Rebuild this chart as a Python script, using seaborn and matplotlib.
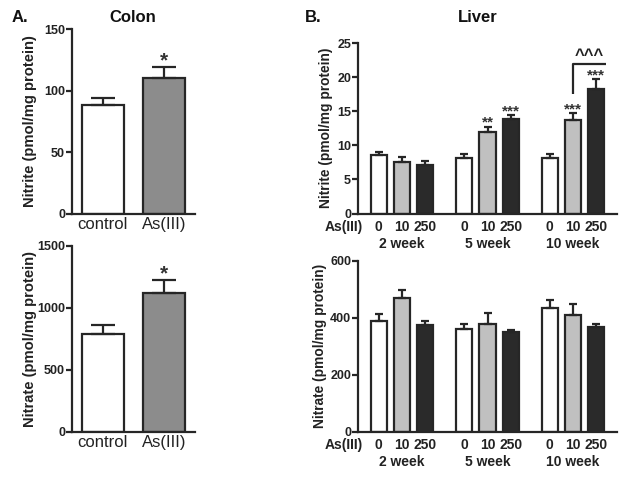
import numpy as np
import pandas as pd
import matplotlib
matplotlib.use("Agg")
import matplotlib.pyplot as plt
import seaborn as sns

# ---------------- data ----------------
colon_groups = ["control", "As(III)"]
colon_nitrite = [88.5, 110.5]
colon_nitrite_err = [5.5, 8.5]
colon_nitrate = [793, 1123]
colon_nitrate_err = [70, 103]
colon_sig = ["", "*"]

weeks = ["2 week", "5 week", "10 week"]
doses = ["0", "10", "250"]
liver_nitrite_2wk = [8.6, 7.5, 7.05]
liver_nitrite_5wk = [8.1, 11.95, 13.9]
liver_nitrite_10wk = [8.15, 13.65, 18.25]
liver_nitrite_err_2wk = [0.4, 0.85, 0.6]
liver_nitrite_err_5wk = [0.6, 0.8, 0.55]
liver_nitrite_err_10wk = [0.55, 1.1, 1.4]
liver_nitrite_sig_2wk = ["", "", ""]
liver_nitrite_sig_5wk = ["", "**", "***"]
liver_nitrite_sig_10wk = ["", "***", "***"]

liver_nitrate_2wk = [389, 468, 375]
liver_nitrate_5wk = [360, 379, 349]
liver_nitrate_10wk = [435, 410, 368]
liver_nitrate_err_2wk = [23, 29, 13]
liver_nitrate_err_5wk = [19, 37, 8]
liver_nitrate_err_10wk = [27, 38, 9]

# ---------------- style ----------------
sns.set_theme(style="ticks")
plt.rcParams["font.family"] = ["Liberation Sans", "DejaVu Sans"]
EDGE = "#262626"
LW = 1.6

fig = plt.figure(figsize=(6.29, 4.78), dpi=100)
W, H = 629, 478


def add_ax(left, top, right, bottom):
    return fig.add_axes([left / W, 1 - bottom / H, (right - left) / W, (bottom - top) / H])


def style_ax(ax, yticks, ylabel, label_x, label_size):
    sns.despine(ax=ax)
    for s in ["left", "bottom"]:
        ax.spines[s].set_linewidth(LW)
        ax.spines[s].set_color(EDGE)
    ax.set_yticks(yticks)
    ax.set_ylim(yticks[0], yticks[-1])
    ax.tick_params(axis="y", length=4, width=LW, color=EDGE, labelsize=9, pad=1, labelcolor="#222222")
    for lab in ax.get_yticklabels():
        lab.set_fontweight("bold")
    ax.set_ylabel(ylabel, fontsize=label_size, fontweight="bold", color="#222222")
    ax.yaxis.set_label_coords(label_x, 0.5)
    ax.set_xlabel("")


def star(ax, x, y, s, size, gap_px):
    # place the visual centre of the asterisks gap_px above the error cap
    off = gap_px / 1.389 - 0.22 * size
    ax.annotate(s, xy=(x, y), xytext=(0, off), textcoords="offset points", ha="center",
                va="center", fontsize=size, fontweight="bold", color="#333333",
                annotation_clip=False)


# ---------------- Colon ----------------
def colon_panel(ax, values, errs, yticks, ylabel):
    df = pd.DataFrame({"group": colon_groups, "value": values})
    sns.barplot(data=df, x="group", y="value", hue="group", palette=["white", "#8c8c8c"],
                width=0.68, edgecolor=EDGE, linewidth=LW, errorbar=None, legend=False, ax=ax)
    ax.errorbar(x=[0, 1], y=values, yerr=[[0, 0], errs], fmt="none", ecolor=EDGE,
                elinewidth=LW, capsize=8.3, capthick=LW, zorder=3)
    for i, (v, e, s) in enumerate(zip(values, errs, colon_sig)):
        if s:
            star(ax, i, v + e, s, 15, 11)
    ax.set_xlim(-0.5, 1.5)
    ax.tick_params(axis="x", length=0, labelsize=12, pad=2, labelcolor="#222222")
    style_ax(ax, yticks, ylabel, -0.285, 10.6)


ax1 = add_ax(72, 29, 195, 214)
colon_panel(ax1, colon_nitrite, colon_nitrite_err, [0, 50, 100, 150], "Nitrite (pmol/mg protein)")
ax2 = add_ax(72, 246, 195, 432)
colon_panel(ax2, colon_nitrate, colon_nitrate_err, [0, 500, 1000, 1500], "Nitrate (pmol/mg protein)")

# ---------------- Liver ----------------
GROUP_STEP = 3.66


def liver_panel(ax, vals_by_week, errs_by_week, sigs_by_week, yticks, ylabel, tick_off, week_off,
                label_x):
    xs, ys, es, ds, ss = [], [], [], [], []
    for g, (vals, errs, sigs) in enumerate(zip(vals_by_week, errs_by_week, sigs_by_week)):
        for i, (v, e, s) in enumerate(zip(vals, errs, sigs)):
            xs.append(g * GROUP_STEP + i)
            ys.append(v)
            es.append(e)
            ds.append(doses[i])
            ss.append(s)
    df = pd.DataFrame({"x": xs, "value": ys, "dose": ds})
    sns.barplot(data=df, x="x", y="value", hue="dose", hue_order=doses,
                palette=["white", "#c0c0c0", "#2a2a2a"], native_scale=True, dodge=False,
                width=0.69, edgecolor=EDGE, linewidth=LW, errorbar=None, legend=False, ax=ax)
    ax.errorbar(x=xs, y=ys, yerr=[np.zeros(len(es)), es], fmt="none", ecolor=EDGE,
                elinewidth=LW, capsize=2.9, capthick=LW, zorder=3)
    for x, v, e, s in zip(xs, ys, es, ss):
        if s:
            star(ax, x, v + e, s, 11, 7)
    ax.set_xlim(-0.89, 2 * GROUP_STEP + 2 + 0.89)
    ax.set_xticks([])
    trans = ax.get_xaxis_transform()
    for x, d in zip(xs, ds):
        ax.annotate(d, xy=(x, 0), xycoords=trans, xytext=(0, -tick_off), textcoords="offset points",
                    ha="center", va="center", fontsize=10, fontweight="bold", color="#222222",
                    annotation_clip=False)
    ax.annotate("As(III)", xy=(-1.5, 0), xycoords=trans, xytext=(0, -tick_off),
                textcoords="offset points", ha="center", va="center", fontsize=10,
                fontweight="bold", color="#222222", annotation_clip=False)
    for g, wk in enumerate(weeks):
        ax.annotate(wk, xy=(g * GROUP_STEP + 1, 0), xycoords=trans, xytext=(0, -week_off),
                    textcoords="offset points", ha="center", va="center", fontsize=10,
                    fontweight="bold", color="#222222", annotation_clip=False)
    style_ax(ax, yticks, ylabel, label_x, 9.9)
    return xs


ax3 = add_ax(358, 43, 617, 213.5)
xs = liver_panel(ax3, [liver_nitrite_2wk, liver_nitrite_5wk, liver_nitrite_10wk],
                 [liver_nitrite_err_2wk, liver_nitrite_err_5wk, liver_nitrite_err_10wk],
                 [liver_nitrite_sig_2wk, liver_nitrite_sig_5wk, liver_nitrite_sig_10wk],
                 [0, 5, 10, 15, 20, 25], "Nitrite (pmol/mg protein)", 9.6, 22.2, -0.097)
# bracket between 10 week, 10 and 250
x10, x250 = xs[7], xs[8] + 0.4
ax3.plot([x10, x10, x250], [17.5, 21.9, 21.9], color=EDGE, lw=LW, solid_capstyle="butt",
         clip_on=False)
ax3.annotate("^^^", xy=((x10 + x250) / 2, 21.9), xytext=(0, 6), textcoords="offset points",
             ha="center", va="center", fontsize=12, fontweight="bold", color="#222222",
             annotation_clip=False)

ax4 = add_ax(358, 260.7, 617, 431.7)
liver_panel(ax4, [liver_nitrate_2wk, liver_nitrate_5wk, liver_nitrate_10wk],
            [liver_nitrate_err_2wk, liver_nitrate_err_5wk, liver_nitrate_err_10wk],
            [["", "", ""]] * 3,
            [0, 200, 400, 600], "Nitrate (pmol/mg protein)", 9.6, 22.0, -0.12)

# ---------------- panel titles ----------------
fig.text(12 / W, 1 - 17 / H, "A.", ha="left", va="center", fontsize=12, fontweight="bold", color="#111111")
fig.text(133 / W, 1 - 17 / H, "Colon", ha="center", va="center", fontsize=12, fontweight="bold", color="#111111")
fig.text(305 / W, 1 - 17 / H, "B.", ha="left", va="center", fontsize=12, fontweight="bold", color="#111111")
fig.text(478 / W, 1 - 17 / H, "Liver", ha="center", va="center", fontsize=12, fontweight="bold", color="#111111")

fig.savefig("out.png", dpi=100)
